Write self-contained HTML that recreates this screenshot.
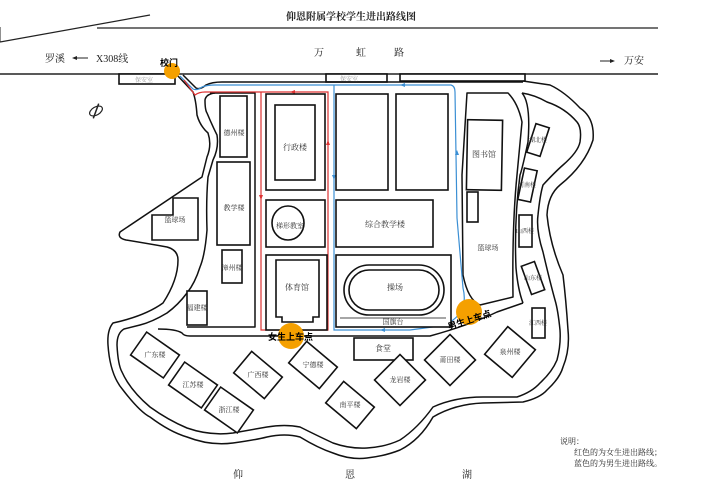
<!DOCTYPE html>
<html><head><meta charset="utf-8"><style>
html,body{margin:0;padding:0;background:#fff}
svg{display:block;font-family:"Liberation Serif","Noto Serif CJK SC","Noto Sans CJK SC",serif}
.s{fill:none;stroke:#111;stroke-width:1.5;stroke-linejoin:round}
.b{fill:#fff;stroke:#111;stroke-width:1.6}
.t{font-size:8px;fill:#333}
</style></head><body>
<svg width="702" height="495" viewBox="0 0 702 495" xmlns="http://www.w3.org/2000/svg">
<rect width="702" height="495" fill="#fff"/>
<!-- top -->
<text x="351" y="20" font-size="10" text-anchor="middle" font-weight="bold" fill="#222">仰恩附属学校学生进出路线图</text>
<line x1="97" y1="28" x2="658" y2="28" stroke="#222" stroke-width="1.2"/>
<line x1="0" y1="42" x2="150" y2="15" stroke="#222" stroke-width="1.2"/>
<line x1="0" y1="27" x2="0" y2="42" stroke="#222" stroke-width="1"/>
<line x1="0" y1="74" x2="658" y2="74" stroke="#222" stroke-width="1.4"/>
<text x="45" y="62" font-size="10" fill="#222">罗溪</text>
<line x1="74" y1="58" x2="88" y2="58" stroke="#222"/><path d="M72 58l5-2v4z" fill="#222"/>
<text x="96" y="62" font-size="10" fill="#222">X308线</text>
<text x="314" y="56" font-size="10" fill="#222">万</text>
<text x="356" y="56" font-size="10" fill="#222">虹</text>
<text x="394" y="56" font-size="10" fill="#222">路</text>
<line x1="600" y1="61" x2="612" y2="61" stroke="#222"/><path d="M615 61l-5-2v4z" fill="#222"/>
<text x="624" y="64" font-size="10" fill="#222">万安</text>
<rect x="119" y="74" width="56" height="10" class="b" stroke-width="1"/>
<text x="135" y="82" font-size="6" fill="#999">保安室</text>
<rect x="326" y="74" width="61" height="8" class="b" stroke-width="1"/>
<text x="340" y="81" font-size="6" fill="#999">保安室</text>
<rect x="400" y="74" width="125" height="7" class="b" stroke-width="1"/>
<!-- compass -->
<g transform="translate(96,111) rotate(-30)"><ellipse rx="7" ry="4" fill="none" stroke="#222" stroke-width="1.2"/><line x1="-6" y1="5" x2="6" y2="-5" stroke="#222" stroke-width="1.5"/></g>
<!-- outer boundary: left road west line around bottom and up right side -->
<path class="s" d="M177 75 L193 92 Q196 100 197 115 Q200 126 208 133 Q212 145 207 157 L202 177 L120 232 Q117 238 126 240 Q150 244 167 247 Q178 250 178 260 Q178 280 163 303 Q145 316 113 323 Q107 330 108 345 Q110 375 123 390 Q140 412 150 417 Q170 432 187 437 Q210 446 233 443 Q255 440 267 437 Q285 433 300 437 Q318 448 333 453 Q350 460 367 458 Q385 456 400 450 Q420 440 433 417 Q455 404 483 403 L523 402 Q540 398 547 390 Q560 378 563 367 Q570 350 568 330 Q566 300 563 275 Q550 245 547 215 Q548 195 560 185 Q585 165 593 140 Q595 118 580 108 Q565 92 550 85 L523 81"/>
<!-- top road upper line -->
<path class="s" d="M183 75 L196 88 Q200 90 206 85 Q212 82 222 82 L523 82"/>
<!-- left road east line + dorm inner loop -->
<path class="s" d="M215 93 Q206 94 205 100 Q205 110 207 113 Q212 125 217 135 Q219 148 213 160 L208 177 Q206 200 207 230 Q205 255 200 267 Q195 283 187 293 Q178 305 167 313 Q152 322 140 325 L124 329 Q117 333 117 345 Q118 365 122 372 Q130 390 150 407 Q168 420 187 428 Q210 436 233 433 Q250 430 267 427 Q285 424 300 427 Q318 436 333 443 Q350 449 367 448 Q385 447 400 440 Q418 428 433 407 Q455 397 483 397 L517 397 Q532 392 540 383 Q552 372 557 360 Q561 345 560 330 Q558 310 555 300 Q550 282 543 252 Q536 230 538 215 Q540 195 543 185 Q555 172 563 165 Q578 152 580 142 Q582 128 577 122 Q565 108 547 102 Q535 95 522 93"/>
<!-- west campus block -->
<path class="s" d="M210 93 L255 93 L255 327 L187 327"/>
<!-- south road line under track -->
<path class="s" d="M158 329 Q176 329 182 333 Q184 336 190 336 L430 336 Q470 325 497 312 L523 303"/>
<!-- library block -->
<path class="s" d="M467 93 L508 93 Q518 103 522 122 L517 175 Q512 225 513 297 L480 305 Q468 300 463 275 L462 175 Z"/>
<!-- right strip road line -->
<path class="s" d="M522 93 Q531 103 528 142 Q522 170 520 175 Q514 220 516 268 Q518 290 523 303"/>
<!-- route lines -->
<path d="M180 76 L193 89 Q197 91 202 87 Q207 85 215 85 L451 85 Q455 86 455 92 L457 218 L463 288 Q466 300 462 310 Q455 322 440 326 L410 330 L334 330 L334 85" fill="none" stroke="#3b8fd4" stroke-width="1.2"/>
<path d="M184 80 L195 95 Q199 92 205 92 L328 92 L328 330 L261 330 L261 92" fill="none" stroke="#d33" stroke-width="1.2"/>
<g fill="#d33"><path d="M261 200l-2-5h4z"/><path d="M328 140l-2 5h4z"/><path d="M290 92l5-2v4z"/><path d="M300 330l-5-2v4z"/></g>
<g fill="#3b8fd4"><path d="M457 150l-2 5h4z"/><path d="M400 85l5-2v4z"/><path d="M380 330l5-2v4z"/><path d="M334 180l-2-5h4z"/></g>
<!-- buildings -->
<g class="b">
<rect x="220" y="96" width="27" height="61"/>
<rect x="217" y="162" width="33" height="83"/>
<rect x="266" y="94" width="59" height="96"/><rect x="275" y="105" width="40" height="75"/>
<rect x="266" y="200" width="59" height="47"/>
<rect x="266" y="255" width="61" height="75"/><path d="M276 260h43v57h-6v5h-31v-5h-6z"/>
<rect x="336" y="94" width="52" height="96"/>
<rect x="396" y="94" width="52" height="96"/>
<rect x="336" y="200" width="97" height="47"/>
<rect x="336" y="255" width="115" height="72"/>
<rect x="467" y="120" width="35" height="70" transform="rotate(1 484 155)"/>
<rect x="467" y="192" width="11" height="30"/>
<rect x="354" y="338" width="59" height="22"/>
<rect x="222" y="250" width="20" height="33"/>
<rect x="187" y="291" width="20" height="34"/>
<path d="M152 215h21v-17h25v42h-46z"/>
<rect x="531" y="125" width="14" height="30" transform="rotate(18 538 140)"/>
<rect x="521" y="169" width="13" height="32" transform="rotate(12 527 185)"/>
<rect x="519" y="215" width="13" height="32"/>
<rect x="526" y="263" width="14" height="30" transform="rotate(-20 533 278)"/>
<rect x="532" y="308" width="13" height="30"/>
</g>
<ellipse cx="288" cy="223" rx="16" ry="17" class="b" stroke-width="1.2"/>
<rect x="344" y="265" width="100" height="50" rx="25" class="b"/>
<rect x="349" y="270" width="90" height="40" rx="20" class="b"/>
<line x1="340" y1="318" x2="446" y2="318" stroke="#111" stroke-width="0.8"/>
<g class="b">
<rect x="-20" y="-14" width="40" height="28" transform="translate(155,355) rotate(35)"/>
<rect x="-20" y="-14" width="40" height="28" transform="translate(193,385) rotate(35)"/>
<rect x="-20" y="-14" width="40" height="28" transform="translate(229,410) rotate(35)"/>
<rect x="-20" y="-14" width="40" height="28" transform="translate(258,375) rotate(40)"/>
<rect x="-20" y="-14" width="40" height="28" transform="translate(313,365) rotate(40)"/>
<rect x="-20" y="-14" width="40" height="28" transform="translate(350,405) rotate(40)"/>
<rect x="-18" y="-18" width="36" height="36" transform="translate(400,380) rotate(45)"/>
<rect x="-18" y="-18" width="36" height="36" transform="translate(450,360) rotate(45)"/>
<rect x="-18" y="-18" width="36" height="36" transform="translate(510,352) rotate(40)"/>
</g>
<!-- labels -->
<g class="t" text-anchor="middle">
<text x="234" y="135" font-size="7">德州楼</text>
<text x="234" y="210" font-size="7">教学楼</text>
<text x="295" y="150">行政楼</text>
<text x="290" y="228" font-size="7">梯形教室</text>
<text x="297" y="290">体育馆</text>
<text x="385" y="227">综合教学楼</text>
<text x="395" y="290">操场</text>
<text x="393" y="324" font-size="7">国旗台</text>
<text x="484" y="157">图书馆</text>
<text x="383" y="351">食堂</text>
<text x="232" y="270" font-size="7">漳州楼</text>
<text x="197" y="310" font-size="7">福建楼</text>
<text x="175" y="222" font-size="7">篮球场</text>
<text x="488" y="250" font-size="7">篮球场</text>
<text x="155" y="357" font-size="7">广东楼</text>
<text x="193" y="387" font-size="7">江苏楼</text>
<text x="229" y="412" font-size="7">浙江楼</text>
<text x="258" y="377" font-size="7">广西楼</text>
<text x="313" y="367" font-size="7">宁德楼</text>
<text x="350" y="407" font-size="7">南平楼</text>
<text x="400" y="382" font-size="7">龙岩楼</text>
<text x="450" y="362" font-size="7">莆田楼</text>
<text x="510" y="354" font-size="7">泉州楼</text>
<text x="538" y="142" font-size="6">湖北楼</text>
<text x="527" y="187" font-size="6">河南楼</text>
<text x="525" y="233" font-size="6">山西楼</text>
<text x="533" y="280" font-size="6">山东楼</text>
<text x="538" y="325" font-size="6">江西楼</text>
</g>
<!-- pickup points -->
<circle cx="172" cy="71" r="8" fill="#f5a000"/>
<text x="160" y="66" font-size="9" font-weight="bold" fill="#000" font-family="Liberation Sans,Noto Sans CJK SC,sans-serif">校门</text>
<circle cx="291" cy="336" r="13" fill="#f5a000"/>
<text x="268" y="340" font-size="9" font-weight="bold" fill="#000" font-family="Liberation Sans,Noto Sans CJK SC,sans-serif">女生上车点</text>
<circle cx="469" cy="312" r="13" fill="#f5a000"/>
<text x="449" y="330" font-size="9" font-weight="bold" fill="#000" transform="rotate(-18 449 330)" font-family="Liberation Sans,Noto Sans CJK SC,sans-serif">男生上车点</text>
<!-- bottom -->
<text x="233" y="478" font-size="10" fill="#222">仰</text>
<text x="345" y="478" font-size="10" fill="#222">恩</text>
<text x="462" y="478" font-size="10" fill="#222">湖</text>
<text x="560" y="444" font-size="8" fill="#222">说明：</text>
<text x="574" y="455" font-size="8" fill="#222">红色的为女生进出路线；</text>
<text x="574" y="466" font-size="8" fill="#222">蓝色的为男生进出路线。</text>
</svg>
</body></html>
